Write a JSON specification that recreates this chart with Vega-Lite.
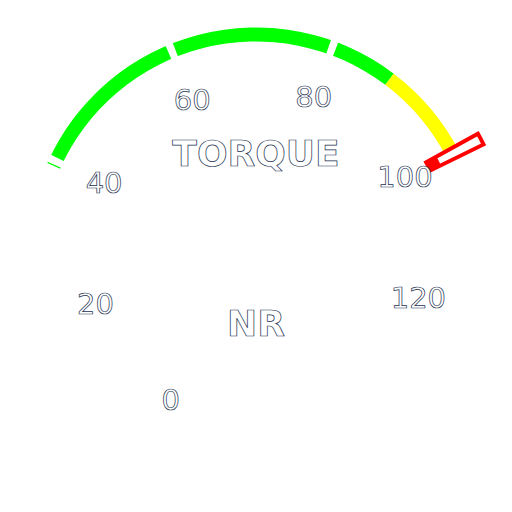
{
  "$schema": "https://vega.github.io/schema/vega-lite/v6.json",
  "width": 512,
  "height": 512,
  "autosize": {"type": "fit", "contains": "padding"},
  "padding": 0,
  "background": "white",
  "config": {"view": {"stroke": null}},
  "datasets": {
    "bands": [
      {"from": 39.4, "to": 88, "zone": "ok"},
      {"from": 88, "to": 100, "zone": "warn"}
    ],
    "ticks": [{"value": 40}, {"value": 60}, {"value": 80}, {"value": 100}],
    "labels": [
      {"value": 0}, {"value": 20}, {"value": 40}, {"value": 60},
      {"value": 80}, {"value": 100}, {"value": 120}
    ],
    "marker": [{"value": 100}],
    "titles": [{"text": "TORQUE", "role": "title"}, {"text": "NR", "role": "unit"}]
  },
  "layer": [
    {
      "data": {"name": "bands"},
      "mark": {"type": "arc", "radius": 228.5, "radius2": 214.5},
      "encoding": {
        "theta": {"field": "from", "type": "quantitative", "scale": {"domain": [0, 140], "range": [-2.6093, 2.5709]}},
        "theta2": {"field": "to"},
        "color": {"field": "zone", "type": "nominal", "scale": {"domain": ["ok", "warn"], "range": ["#00ff00", "#ffff00"]}, "legend": null}
      }
    },
    {
      "data": {"name": "ticks"},
      "mark": {"type": "arc", "radius": 236, "radius2": 206, "color": "white", "thetaOffset": -0.0167, "theta2Offset": 0.0167},
      "encoding": {
        "theta": {"field": "value", "type": "quantitative"},
        "theta2": {"field": "value"}
      }
    },
    {
      "data": {"name": "marker"},
      "mark": {"type": "arc", "radius": 253.4, "radius2": 194.3, "fill": "white", "stroke": "#ff0000", "strokeWidth": 4, "thetaOffset": -0.024, "theta2Offset": 0.024},
      "encoding": {
        "theta": {"field": "value", "type": "quantitative"},
        "theta2": {"field": "value"}
      }
    },
    {
      "data": {"name": "marker"},
      "mark": {"type": "arc", "radius": 206, "radius2": 194.3, "fill": "#ff0000", "thetaOffset": -0.024, "theta2Offset": 0.024},
      "encoding": {
        "theta": {"field": "value", "type": "quantitative"},
        "theta2": {"field": "value"}
      }
    },
    {
      "data": {"name": "labels"},
      "mark": {"type": "text", "radius": 168, "font": "DejaVu Sans", "fontSize": 29, "fill": "white", "stroke": "#22304f", "strokeWidth": 0.7, "align": "center", "baseline": "middle"},
      "encoding": {
        "theta": {"field": "value", "type": "quantitative", "stack": null},
        "text": {"field": "value", "type": "quantitative"}
      }
    },
    {
      "data": {"name": "titles"},
      "transform": [{"filter": "datum.role === 'title'"}],
      "mark": {"type": "text", "x": {"expr": "width/2"}, "y": {"expr": "height/2"}, "dy": -101, "font": "DejaVu Sans", "fontWeight": "bold", "fontSize": 36, "fill": "white", "stroke": "#22304f", "strokeWidth": 0.7, "align": "center", "baseline": "middle"},
      "encoding": {"text": {"field": "text", "type": "nominal"}}
    },
    {
      "data": {"name": "titles"},
      "transform": [{"filter": "datum.role === 'unit'"}],
      "mark": {"type": "text", "x": {"expr": "width/2"}, "y": {"expr": "height/2"}, "dy": 69, "font": "DejaVu Sans", "fontWeight": "bold", "fontSize": 36, "fill": "white", "stroke": "#22304f", "strokeWidth": 0.7, "align": "center", "baseline": "middle"},
      "encoding": {"text": {"field": "text", "type": "nominal"}}
    }
  ]
}
